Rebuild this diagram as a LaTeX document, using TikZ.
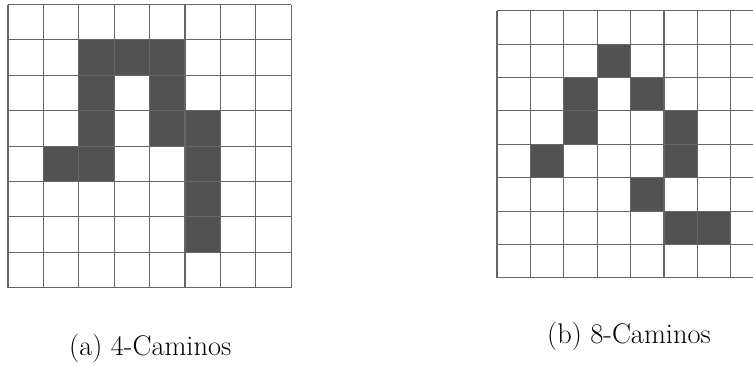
\documentclass[tikz,border=0pt]{standalone}
\usepackage{fontspec}
\tikzset{
  cellfill/.style={fill=black!68, draw=none},
  gridline/.style={draw=black!60, line width=1.1pt},
  caption/.style={inner sep=0pt, anchor=base west, font=\fontsize{28.4}{32}\selectfont}
}
\begin{document}
\begin{tikzpicture}[x=1pt,y=-1pt]
\useasboundingbox (0,0) rectangle (753,365);
\clip (0,0) rectangle (753,365);
% left grid (4-paths)
\def\lx{8}\def\ly{4.5}\def\lc{35.4}
\foreach \c/\r in {2/1,3/1,4/1,2/2,4/2,2/3,4/3,5/3,1/4,2/4,5/4,5/5,5/6}{
  \fill[cellfill] ({\lx+\c*\lc},{\ly+\r*\lc}) rectangle ({\lx+(\c+1)*\lc},{\ly+(\r+1)*\lc});
}
\foreach \i in {0,...,8}{
  \draw[gridline] ({\lx+\i*\lc},\ly) -- ({\lx+\i*\lc},{\ly+8*\lc});
  \draw[gridline] (\lx,{\ly+\i*\lc}) -- ({\lx+8*\lc},{\ly+\i*\lc});
}
% right grid (8-paths)
\def\rx{497}\def\ry{10.7}\def\rc{33.4}
\foreach \c/\r in {3/1,2/2,4/2,2/3,5/3,1/4,5/4,4/5,5/6,6/6}{
  \fill[cellfill] ({\rx+\c*\rc},{\ry+\r*\rc}) rectangle ({\rx+(\c+1)*\rc},{\ry+(\r+1)*\rc});
}
\foreach \i in {0,...,8}{
  \draw[gridline] ({\rx+\i*\rc},\ry) -- ({\rx+\i*\rc},{\ry+8*\rc});
  \draw[gridline] (\rx,{\ry+\i*\rc}) -- ({\rx+8*\rc},{\ry+\i*\rc});
}
\node[caption] (capa) at (69,355) {(a) 4-Caminos};
\node[caption] (capb) at (547,343) {(b) 8-Caminos};
\end{tikzpicture}
\end{document}
